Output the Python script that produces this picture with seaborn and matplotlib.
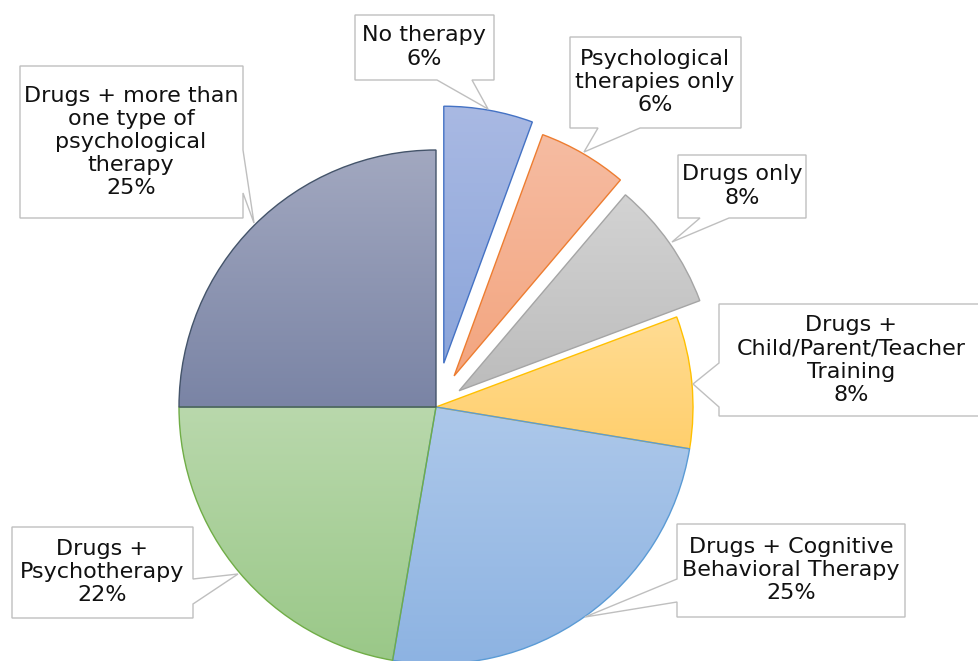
import numpy as np
import matplotlib.pyplot as plt
import seaborn as sns
from matplotlib.patches import Polygon
from matplotlib.colors import to_rgb

sns.set_theme(style="white")
plt.rcParams['font.family'] = ['DejaVu Sans']

# data (clockwise from 12 o'clock), shares
labels = ['No therapy', 'Psychological\ntherapies only', 'Drugs only',
          'Drugs +\nChild/Parent/Teacher\nTraining',
          'Drugs + Cognitive\nBehavioral Therapy',
          'Drugs +\nPsychotherapy',
          'Drugs + more than\none type of\npsychological\ntherapy']
shares = [5.6, 5.6, 8.1, 8.3, 25.1, 22.3, 25.0]
# pie offset as a fraction of the radius
explode = [0.173, 0.14, 0.11, 0, 0, 0, 0]

# gradient top / bottom colours and outline colours
top_cols = ['#A9B9E3', '#F6BCA2', '#D3D3D3', '#FFDC93', '#ADC8EA', '#B9D8AC', '#A2A8C0']
bot_cols = ['#8BA5DA', '#F3A57F', '#BCBCBC', '#FFCF6D', '#8DB3E2', '#9AC888', '#7A84A5']
edge_cols = ['#4472C4', '#ED7D31', '#A5A5A5', '#FFC000', '#5B9BD5', '#70AD47', '#44546A']

# callout boxes in pixel coords: (x0, y0, x1, y1), side, base, tip
callouts = [
    ((355, 15, 494, 80), 'bottom', (437, 472), (488, 109)),
    ((570, 37, 741, 128), 'bottom', (598, 640), (584, 152)),
    ((678, 155, 806, 218), 'bottom', (700, 729), (672, 242)),
    ((719, 304, 990, 416), 'left', (363, 407), (693, 384)),
    ((677, 524, 905, 617), 'left', (579, 602), (585, 617)),
    ((12, 527, 193, 618), 'right', (579, 604), (238, 574)),
    ((20, 66, 243, 218), 'right', (150, 193), (254, 223)),
]
text_pos = [(424, 47), (655, 82), (742, 186), (851, 360), (791, 570), (102, 572), (131, 142)]

W, H = 979, 661
R = 257
fig = plt.figure(figsize=(W / 100, H / 100), dpi=100)
ax = fig.add_axes([0, 0, 1, 1])

# matplotlib applies explode in data units, so scale by the radius
wedges, _ = ax.pie(shares, explode=[e * R for e in explode], startangle=-90,
                   counterclock=True, center=(436, 407), radius=R, colors=bot_cols,
                   wedgeprops=dict(linewidth=1.0))

for w, ct, cb, ce in zip(wedges, top_cols, bot_cols, edge_cols):
    ext = w.get_path().get_extents()
    t = np.linspace(0, 1, 256)[:, None, None]
    grad = (1 - t) * np.array(to_rgb(ct)) + t * np.array(to_rgb(cb))
    im = ax.imshow(grad, extent=[ext.x0, ext.x1, ext.y1, ext.y0], origin='upper',
                   interpolation='bilinear', aspect='auto', zorder=0.5)
    im.set_clip_path(w)
    w.set_facecolor('none')
    w.set_edgecolor(ce)


def callout_poly(box, side, base, tip):
    x0, y0, x1, y1 = box
    a, b = base
    if side == 'bottom':
        pts = [(x0, y0), (x1, y0), (x1, y1), (b, y1), tip, (a, y1), (x0, y1)]
    elif side == 'right':
        pts = [(x0, y0), (x1, y0), (x1, a), tip, (x1, b), (x1, y1), (x0, y1)]
    else:
        pts = [(x0, y0), (x1, y0), (x1, y1), (x0, y1), (x0, b), tip, (x0, a)]
    return pts


total = sum(shares)
for (box, side, base, tip), lab, s, (tx, ty) in zip(callouts, labels, shares, text_pos):
    ax.add_patch(Polygon(callout_poly(box, side, base, tip), closed=True,
                         facecolor='white', edgecolor='#BFBFBF', linewidth=1.0, zorder=3))
    pct = round(s / total * 100)
    ax.text(tx, ty, f"{lab}\n{pct}%", ha='center', va='center', fontsize=16,
            color='#111111', linespacing=1.2, zorder=4)

ax.set_xlim(0, W)
ax.set_ylim(H, 0)
ax.set_aspect('equal')
ax.axis('off')

plt.savefig('out.png', dpi=100)
